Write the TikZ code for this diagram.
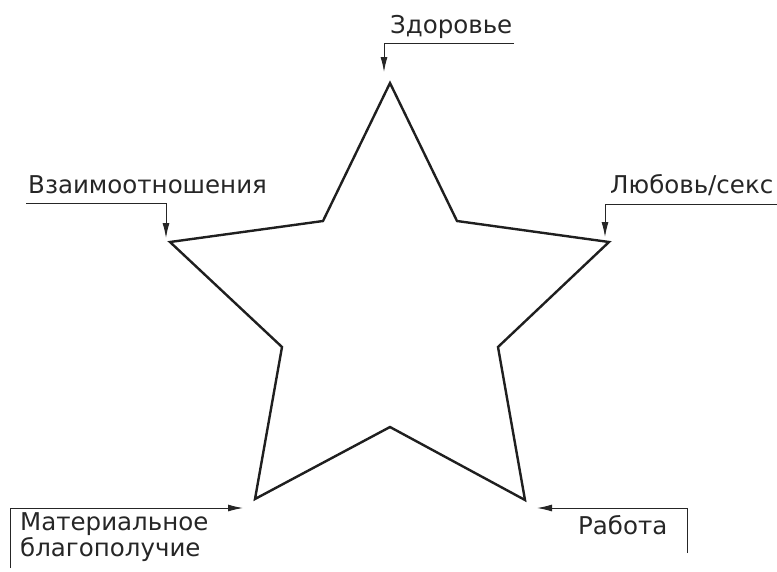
\documentclass[tikz,border=0pt]{standalone}
\usepackage{fontspec}
\setmainfont{DejaVu Sans}
\usetikzlibrary{arrows.meta}
\begin{document}
\begin{tikzpicture}[x=1pt,y=-1pt,
  starline/.style={line width=2.4pt, line join=miter, draw=black!88},
  conn/.style={line width=1pt, draw=black!85, -{Latex[length=15pt,width=7pt]}},
  lbl/.style={font=\fontsize{24.5}{22}\selectfont, text=black!85, inner sep=0pt, align=left}]
\useasboundingbox (0,0) rectangle (777,571);
% star vertices
\coordinate (T) at (390,83);
\coordinate (I1) at (457,221);
\coordinate (UR) at (609,242);
\coordinate (I2) at (498,347);
\coordinate (LR) at (525,500);
\coordinate (I3) at (390,427);
\coordinate (LL) at (255,499);
\coordinate (I4) at (282,347);
\coordinate (UL) at (170,242);
\coordinate (I5) at (323,221);
\draw[starline] (T) -- (I1) -- (UR) -- (I2) -- (LR) -- (I3) -- (LL) -- (I4) -- (UL) -- (I5) -- cycle;
% labels
\node[lbl, anchor=base west] (zd) at (390,33) {Здоровье};
\node[lbl, anchor=base west] (vz) at (28,193) {Взаимоотношения};
\node[lbl, anchor=base west] (lb) at (610,193) {Любовь/секс};
\node[lbl, anchor=base west] (mt) at (20,556) {Материальное\\благополучие};
\node[lbl, anchor=base west] (rb) at (578,534) {Работа};
% connectors
\coordinate (zdA) at (514,43);
\coordinate (zdB) at (384,43);
\coordinate (zdT) at (384,72);
\draw[conn] (zdA) -- (zdB) -- (zdT);
\coordinate (vzA) at (26,203);
\coordinate (vzB) at (166,203);
\coordinate (vzT) at (166,238);
\draw[conn] (vzA) -- (vzB) -- (vzT);
\coordinate (lbA) at (777,204);
\coordinate (lbB) at (605,204);
\coordinate (lbT) at (605,237);
\draw[conn] (lbA) -- (lbB) -- (lbT);
\coordinate (mtA) at (10,568);
\coordinate (mtB) at (10,508);
\coordinate (mtT) at (243,508);
\draw[conn] (mtA) -- (mtB) -- (mtT);
\coordinate (rbA) at (687,553);
\coordinate (rbB) at (687,508);
\coordinate (rbT) at (537,508);
\draw[conn] (rbA) -- (rbB) -- (rbT);
\end{tikzpicture}
\end{document}
